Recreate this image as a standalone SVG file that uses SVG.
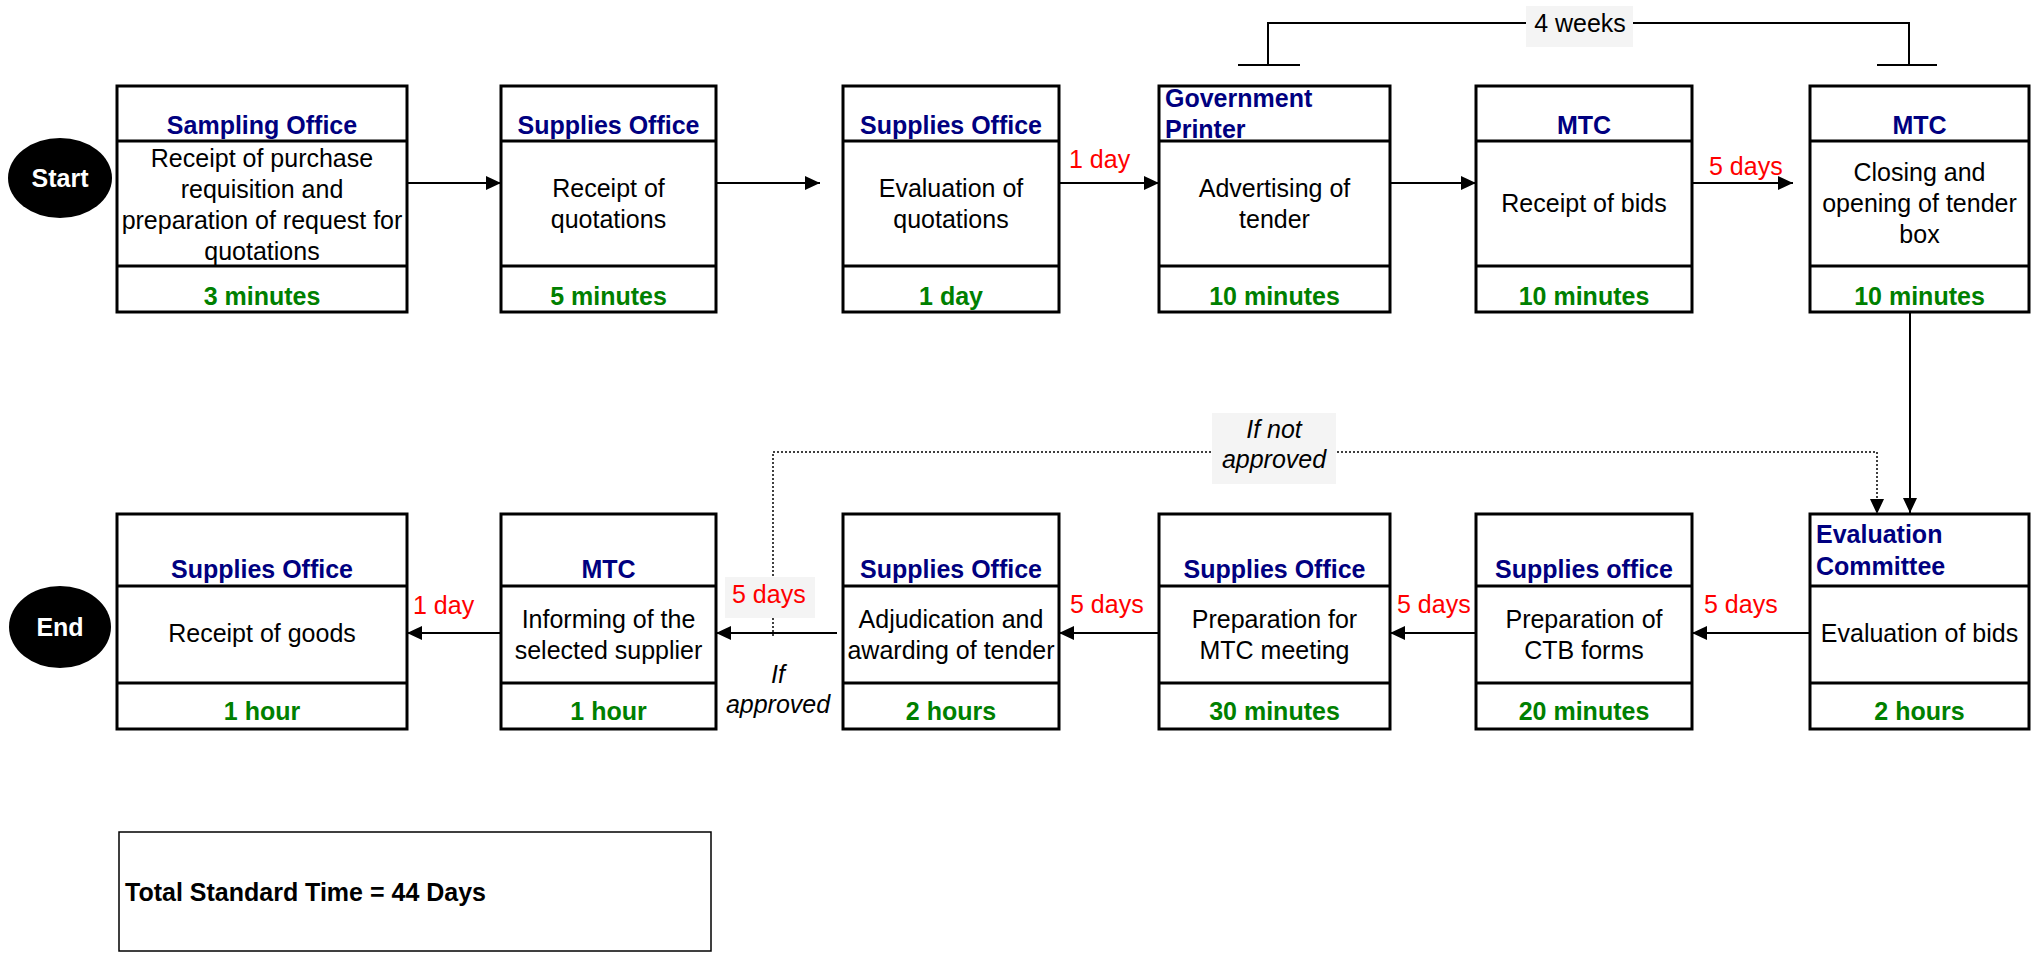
<svg xmlns="http://www.w3.org/2000/svg" width="2033" height="956" viewBox="0 0 2033 956">
<style>
text{font-family:"Liberation Sans",Arial,sans-serif;font-size:25px}
.box{fill:#fff;stroke:#000;stroke-width:3}
.div{stroke:#000;stroke-width:3}
.hd{fill:#000080;font-weight:bold;text-anchor:middle}
.hdl{fill:#000080;font-weight:bold}
.bd{fill:#000;text-anchor:middle}
.ft{fill:#008000;font-weight:bold;text-anchor:middle}
.red{fill:#ff0000}
.ln{stroke:#000;stroke-width:2;fill:none}
.dot{stroke:#000;stroke-width:1.5;fill:none;stroke-dasharray:2 2}
.lbg{fill:#f4f4f4}
.it{font-style:italic;text-anchor:middle;fill:#000}
.term{fill:#000}
.tt{fill:#fff;font-weight:bold;text-anchor:middle}
</style>
<defs>
<marker id="ah" markerUnits="userSpaceOnUse" markerWidth="16" markerHeight="16" refX="15" refY="7" orient="auto">
<path d="M0,0 L15,7 L0,14 z" fill="#000"/>
</marker>
</defs>
<rect width="2033" height="956" fill="#fff"/>

<g id="connectors">
<line class="ln" x1="407" y1="183" x2="501" y2="183" marker-end="url(#ah)"/>
<line class="ln" x1="716" y1="183" x2="820" y2="183" marker-end="url(#ah)"/>
<line class="ln" x1="1059" y1="183" x2="1159" y2="183" marker-end="url(#ah)"/>
<line class="ln" x1="1390" y1="183" x2="1476" y2="183" marker-end="url(#ah)"/>
<line class="ln" x1="1690" y1="183" x2="1793" y2="183" marker-end="url(#ah)"/>
<line class="ln" x1="1910" y1="312" x2="1910" y2="513" marker-end="url(#ah)"/>
<polyline class="ln" points="1268,65 1268,23 1909,23 1909,65"/>
<line class="ln" x1="1238" y1="65" x2="1300" y2="65"/>
<line class="ln" x1="1877" y1="65" x2="1937" y2="65"/>
<rect class="lbg" x="1526" y="6" width="107" height="41"/>
<text x="1580" y="32" text-anchor="middle">4 weeks</text>
<text class="red" x="1069" y="168">1 day</text>
<text class="red" x="1709" y="175">5 days</text>

<line class="ln" x1="1810" y1="633" x2="1692" y2="633" marker-end="url(#ah)"/>
<line class="ln" x1="1476" y1="633" x2="1390" y2="633" marker-end="url(#ah)"/>
<line class="ln" x1="1160" y1="633" x2="1059" y2="633" marker-end="url(#ah)"/>
<line class="ln" x1="837" y1="633" x2="716" y2="633" marker-end="url(#ah)"/>
<line class="ln" x1="501" y1="633" x2="407" y2="633" marker-end="url(#ah)"/>
<polyline class="dot" points="773,636 773,452 1877,452 1877,500"/>
<path d="M1870,499 L1884,499 L1877,514 z" fill="#000"/>
<rect class="lbg" x="1212" y="413" width="124" height="71"/>
<text class="it" x="1274" y="438">If not</text>
<text class="it" x="1274" y="468">approved</text>
<rect class="lbg" x="725" y="577" width="90" height="41"/>
<text class="red" x="732" y="603">5 days</text>
<text class="it" x="778" y="683">If</text>
<text class="it" x="778" y="713">approved</text>
<text class="red" x="413" y="614">1 day</text>
<text class="red" x="1070" y="613">5 days</text>
<text class="red" x="1397" y="613">5 days</text>
<text class="red" x="1704" y="613">5 days</text>
</g>

<g id="start">
<ellipse class="term" cx="60" cy="178" rx="52" ry="40"/>
<text class="tt" x="60" y="187">Start</text>
</g>
<g id="end">
<ellipse class="term" cx="60" cy="627" rx="51" ry="41"/>
<text class="tt" x="60" y="636">End</text>
</g>

<g id="n1">
<rect class="box" x="117" y="86" width="290" height="226"/>
<line class="div" x1="117" y1="141" x2="407" y2="141"/>
<line class="div" x1="117" y1="266" x2="407" y2="266"/>
<text class="hd" x="262" y="134">Sampling Office</text>
<text class="bd" x="262" y="167">Receipt of purchase</text>
<text class="bd" x="262" y="198">requisition and</text>
<text class="bd" x="262" y="229">preparation of request for</text>
<text class="bd" x="262" y="260">quotations</text>
<text class="ft" x="262" y="305">3 minutes</text>
</g>
<g id="n2">
<rect class="box" x="501" y="86" width="215" height="226"/>
<line class="div" x1="501" y1="141" x2="716" y2="141"/>
<line class="div" x1="501" y1="266" x2="716" y2="266"/>
<text class="hd" x="608.5" y="134">Supplies Office</text>
<text class="bd" x="608.5" y="197">Receipt of</text>
<text class="bd" x="608.5" y="228">quotations</text>
<text class="ft" x="608.5" y="305">5 minutes</text>
</g>
<g id="n3">
<rect class="box" x="843" y="86" width="216" height="226"/>
<line class="div" x1="843" y1="141" x2="1059" y2="141"/>
<line class="div" x1="843" y1="266" x2="1059" y2="266"/>
<text class="hd" x="951" y="134">Supplies Office</text>
<text class="bd" x="951" y="197">Evaluation of</text>
<text class="bd" x="951" y="228">quotations</text>
<text class="ft" x="951" y="305">1 day</text>
</g>
<g id="n4">
<rect class="box" x="1159" y="86" width="231" height="226"/>
<line class="div" x1="1159" y1="141" x2="1390" y2="141"/>
<line class="div" x1="1159" y1="266" x2="1390" y2="266"/>
<text class="hdl" x="1165" y="107">Government</text>
<text class="hdl" x="1165" y="138">Printer</text>
<text class="bd" x="1274.5" y="197">Advertising of</text>
<text class="bd" x="1274.5" y="228">tender</text>
<text class="ft" x="1274.5" y="305">10 minutes</text>
</g>
<g id="n5">
<rect class="box" x="1476" y="86" width="216" height="226"/>
<line class="div" x1="1476" y1="141" x2="1692" y2="141"/>
<line class="div" x1="1476" y1="266" x2="1692" y2="266"/>
<text class="hd" x="1584" y="134">MTC</text>
<text class="bd" x="1584" y="212">Receipt of bids</text>
<text class="ft" x="1584" y="305">10 minutes</text>
</g>
<g id="n6">
<rect class="box" x="1810" y="86" width="219" height="226"/>
<line class="div" x1="1810" y1="141" x2="2029" y2="141"/>
<line class="div" x1="1810" y1="266" x2="2029" y2="266"/>
<text class="hd" x="1919.5" y="134">MTC</text>
<text class="bd" x="1919.5" y="181">Closing and</text>
<text class="bd" x="1919.5" y="212">opening of tender</text>
<text class="bd" x="1919.5" y="243">box</text>
<text class="ft" x="1919.5" y="305">10 minutes</text>
</g>

<g id="n7">
<rect class="box" x="1810" y="514" width="219" height="215"/>
<line class="div" x1="1810" y1="586" x2="2029" y2="586"/>
<line class="div" x1="1810" y1="683" x2="2029" y2="683"/>
<text class="hdl" x="1816" y="543">Evaluation</text>
<text class="hdl" x="1816" y="575">Committee</text>
<text class="bd" x="1919.5" y="642">Evaluation of bids</text>
<text class="ft" x="1919.5" y="720">2 hours</text>
</g>
<g id="n8">
<rect class="box" x="1476" y="514" width="216" height="215"/>
<line class="div" x1="1476" y1="586" x2="1692" y2="586"/>
<line class="div" x1="1476" y1="683" x2="1692" y2="683"/>
<text class="hd" x="1584" y="578">Supplies office</text>
<text class="bd" x="1584" y="628">Preparation of</text>
<text class="bd" x="1584" y="659">CTB forms</text>
<text class="ft" x="1584" y="720">20 minutes</text>
</g>
<g id="n9">
<rect class="box" x="1159" y="514" width="231" height="215"/>
<line class="div" x1="1159" y1="586" x2="1390" y2="586"/>
<line class="div" x1="1159" y1="683" x2="1390" y2="683"/>
<text class="hd" x="1274.5" y="578">Supplies Office</text>
<text class="bd" x="1274.5" y="628">Preparation for</text>
<text class="bd" x="1274.5" y="659">MTC meeting</text>
<text class="ft" x="1274.5" y="720">30 minutes</text>
</g>
<g id="n10">
<rect class="box" x="843" y="514" width="216" height="215"/>
<line class="div" x1="843" y1="586" x2="1059" y2="586"/>
<line class="div" x1="843" y1="683" x2="1059" y2="683"/>
<text class="hd" x="951" y="578">Supplies Office</text>
<text class="bd" x="951" y="628">Adjudication and</text>
<text class="bd" x="951" y="659">awarding of tender</text>
<text class="ft" x="951" y="720">2 hours</text>
</g>
<g id="n11">
<rect class="box" x="501" y="514" width="215" height="215"/>
<line class="div" x1="501" y1="586" x2="716" y2="586"/>
<line class="div" x1="501" y1="683" x2="716" y2="683"/>
<text class="hd" x="608.5" y="578">MTC</text>
<text class="bd" x="608.5" y="628">Informing of the</text>
<text class="bd" x="608.5" y="659">selected supplier</text>
<text class="ft" x="608.5" y="720">1 hour</text>
</g>
<g id="n12">
<rect class="box" x="117" y="514" width="290" height="215"/>
<line class="div" x1="117" y1="586" x2="407" y2="586"/>
<line class="div" x1="117" y1="683" x2="407" y2="683"/>
<text class="hd" x="262" y="578">Supplies Office</text>
<text class="bd" x="262" y="642">Receipt of goods</text>
<text class="ft" x="262" y="720">1 hour</text>
</g>

<g id="total">
<rect x="119" y="832" width="592" height="119" fill="#fff" stroke="#000" stroke-width="1.5"/>
<text x="125" y="901" font-weight="bold">Total Standard Time = 44 Days</text>
</g>
</svg>
